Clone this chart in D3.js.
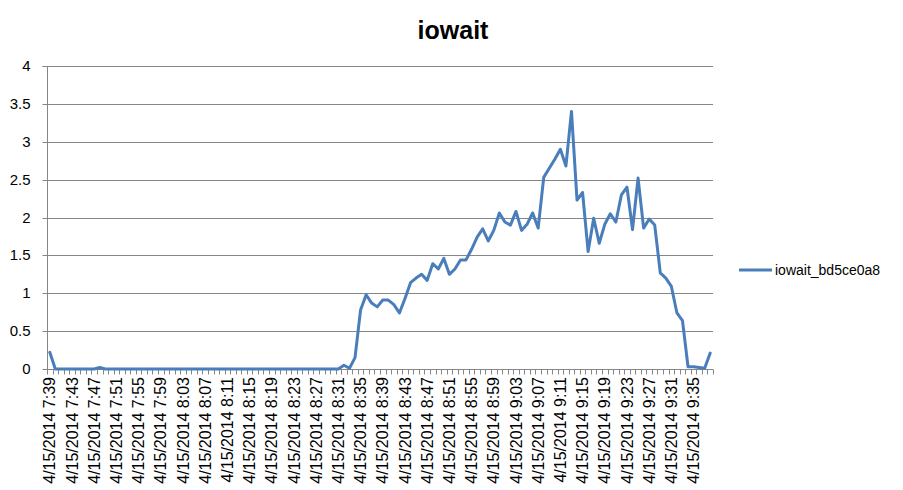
<!DOCTYPE html>
<html><head><meta charset="utf-8">
<script src="https://cdn.jsdelivr.net/npm/d3@7"></script>
<style>body{margin:0;background:#fff}svg{display:block}</style>
</head><body>
<svg id="c" width="903" height="490"></svg>
<script>
const title = "iowait";
const seriesName = "iowait_bd5ce0a8";
const categories = [
"4/15/2014 7:39","4/15/2014 7:40","4/15/2014 7:41","4/15/2014 7:42","4/15/2014 7:43","4/15/2014 7:44","4/15/2014 7:45","4/15/2014 7:46","4/15/2014 7:47","4/15/2014 7:48",
"4/15/2014 7:49","4/15/2014 7:50","4/15/2014 7:51","4/15/2014 7:52","4/15/2014 7:53","4/15/2014 7:54","4/15/2014 7:55","4/15/2014 7:56","4/15/2014 7:57","4/15/2014 7:58",
"4/15/2014 7:59","4/15/2014 8:00","4/15/2014 8:01","4/15/2014 8:02","4/15/2014 8:03","4/15/2014 8:04","4/15/2014 8:05","4/15/2014 8:06","4/15/2014 8:07","4/15/2014 8:08",
"4/15/2014 8:09","4/15/2014 8:10","4/15/2014 8:11","4/15/2014 8:12","4/15/2014 8:13","4/15/2014 8:14","4/15/2014 8:15","4/15/2014 8:16","4/15/2014 8:17","4/15/2014 8:18",
"4/15/2014 8:19","4/15/2014 8:20","4/15/2014 8:21","4/15/2014 8:22","4/15/2014 8:23","4/15/2014 8:24","4/15/2014 8:25","4/15/2014 8:26","4/15/2014 8:27","4/15/2014 8:28",
"4/15/2014 8:29","4/15/2014 8:30","4/15/2014 8:31","4/15/2014 8:32","4/15/2014 8:33","4/15/2014 8:34","4/15/2014 8:35","4/15/2014 8:36","4/15/2014 8:37","4/15/2014 8:38",
"4/15/2014 8:39","4/15/2014 8:40","4/15/2014 8:41","4/15/2014 8:42","4/15/2014 8:43","4/15/2014 8:44","4/15/2014 8:45","4/15/2014 8:46","4/15/2014 8:47","4/15/2014 8:48",
"4/15/2014 8:49","4/15/2014 8:50","4/15/2014 8:51","4/15/2014 8:52","4/15/2014 8:53","4/15/2014 8:54","4/15/2014 8:55","4/15/2014 8:56","4/15/2014 8:57","4/15/2014 8:58",
"4/15/2014 8:59","4/15/2014 9:00","4/15/2014 9:01","4/15/2014 9:02","4/15/2014 9:03","4/15/2014 9:04","4/15/2014 9:05","4/15/2014 9:06","4/15/2014 9:07","4/15/2014 9:08",
"4/15/2014 9:09","4/15/2014 9:10","4/15/2014 9:11","4/15/2014 9:12","4/15/2014 9:13","4/15/2014 9:14","4/15/2014 9:15","4/15/2014 9:16","4/15/2014 9:17","4/15/2014 9:18",
"4/15/2014 9:19","4/15/2014 9:20","4/15/2014 9:21","4/15/2014 9:22","4/15/2014 9:23","4/15/2014 9:24","4/15/2014 9:25","4/15/2014 9:26","4/15/2014 9:27","4/15/2014 9:28",
"4/15/2014 9:29","4/15/2014 9:30","4/15/2014 9:31","4/15/2014 9:32","4/15/2014 9:33","4/15/2014 9:34","4/15/2014 9:35","4/15/2014 9:36","4/15/2014 9:37","4/15/2014 9:38"
];
const values = [
0.22,0,0,0,0,0,0,0,0,0.02,
0,0,0,0,0,0,0,0,0,0,
0,0,0,0,0,0,0,0,0,0,
0,0,0,0,0,0,0,0,0,0,
0,0,0,0,0,0,0,0,0,0,
0,0,0,0.05,0.01,0.15,0.78,0.98,0.87,0.82,
0.91,0.91,0.85,0.74,0.93,1.14,1.20,1.25,1.17,1.39,
1.32,1.46,1.25,1.32,1.44,1.44,1.58,1.74,1.85,1.69,
1.83,2.06,1.94,1.90,2.08,1.83,1.91,2.06,1.86,2.53,
2.65,2.77,2.90,2.68,3.40,2.23,2.33,1.55,1.99,1.66,
1.91,2.05,1.94,2.30,2.40,1.84,2.52,1.86,1.98,1.90,
1.27,1.20,1.09,0.74,0.64,0.03,0.03,0.02,0.01,0.21
];
const yTicks = [0,0.5,1,1.5,2,2.5,3,3.5,4];
const labelEvery = 4;

const svg = d3.select("#c");
const L = 47, R = 713, T = 66, B = 369;
const font = "'Liberation Sans', Arial, sans-serif";
const gridColor = "#868686";
const lineColor = "#4A7EBB";

const x = d3.scaleBand().domain(categories).range([L, R]).paddingInner(0).paddingOuter(0);
const xb = d3.scaleLinear().domain([0, categories.length]).range([L, R]);
const y = d3.scaleLinear().domain([0, 4]).range([B, T]);

// gridlines
svg.append("g").selectAll("line").data(yTicks.filter(d => d > 0)).join("line")
  .attr("x1", L).attr("x2", R)
  .attr("y1", d => Math.round(y(d)) + 0.5).attr("y2", d => Math.round(y(d)) + 0.5)
  .attr("stroke", gridColor).attr("stroke-width", 1);

// y axis
const ya = svg.append("g").attr("transform", `translate(${L + 0.5},0)`)
  .call(d3.axisLeft(y).tickValues(yTicks).tickSize(5).tickPadding(12).tickFormat(d3.format("")));
ya.select(".domain").attr("stroke", gridColor).attr("d", `M-5,${y(4)+0.5}H0V${B+0.5}`);
ya.selectAll(".tick line").attr("stroke", gridColor);
ya.selectAll(".tick").attr("transform", d => `translate(0,${Math.round(y(d)) + 0.5})`);
ya.selectAll("text").attr("font-family", font).attr("font-size", 15).attr("fill", "#000");

// x axis tick marks at category boundaries
const xa = svg.append("g").attr("transform", `translate(0,${B + 0.5})`)
  .call(d3.axisBottom(xb).tickValues(d3.range(categories.length + 1)).tickSize(5).tickFormat(""));
xa.select(".domain").attr("stroke", gridColor).attr("d", `M${L},0H${R}`);
xa.selectAll(".tick line").attr("stroke", gridColor);
xa.selectAll(".tick").attr("transform", d => `translate(${Math.round(xb(d)) + 0.5},0)`);

// x labels
const xl = svg.append("g").attr("transform", `translate(0,${B})`)
  .call(d3.axisBottom(x).tickValues(categories.filter((d, i) => i % labelEvery === 0)).tickSize(0).tickFormat(d => d));
xl.select(".domain").remove();
xl.selectAll("text")
  .attr("font-family", font).attr("font-size", 16).attr("fill", "#000")
  .attr("text-anchor", "end").attr("dy", "0.35em")
  .attr("transform", "translate(0,8) rotate(-90)")
  .attr("x", 0).attr("y", 0);

// line
const line = d3.line().x((d, i) => x(categories[i]) + x.bandwidth() / 2).y(d => y(d));
svg.append("path").datum(values).attr("d", line)
  .attr("fill", "none").attr("stroke", lineColor).attr("stroke-width", 3)
  .attr("stroke-linejoin", "round").attr("stroke-linecap", "round");

// title
svg.append("text").attr("x", 453).attr("y", 39).attr("text-anchor", "middle")
  .attr("font-family", font).attr("font-size", 25).attr("font-weight", "bold").text(title);

// legend
const lg = svg.append("g").attr("transform", "translate(739,270)");
lg.append("line").attr("x1", 0).attr("x2", 33).attr("y1", 0).attr("y2", 0)
  .attr("stroke", lineColor).attr("stroke-width", 3);
lg.append("text").attr("x", 36).attr("y", 0).attr("dy", "0.35em")
  .attr("font-family", font).attr("font-size", 14).text(seriesName);
</script>
</body></html>
